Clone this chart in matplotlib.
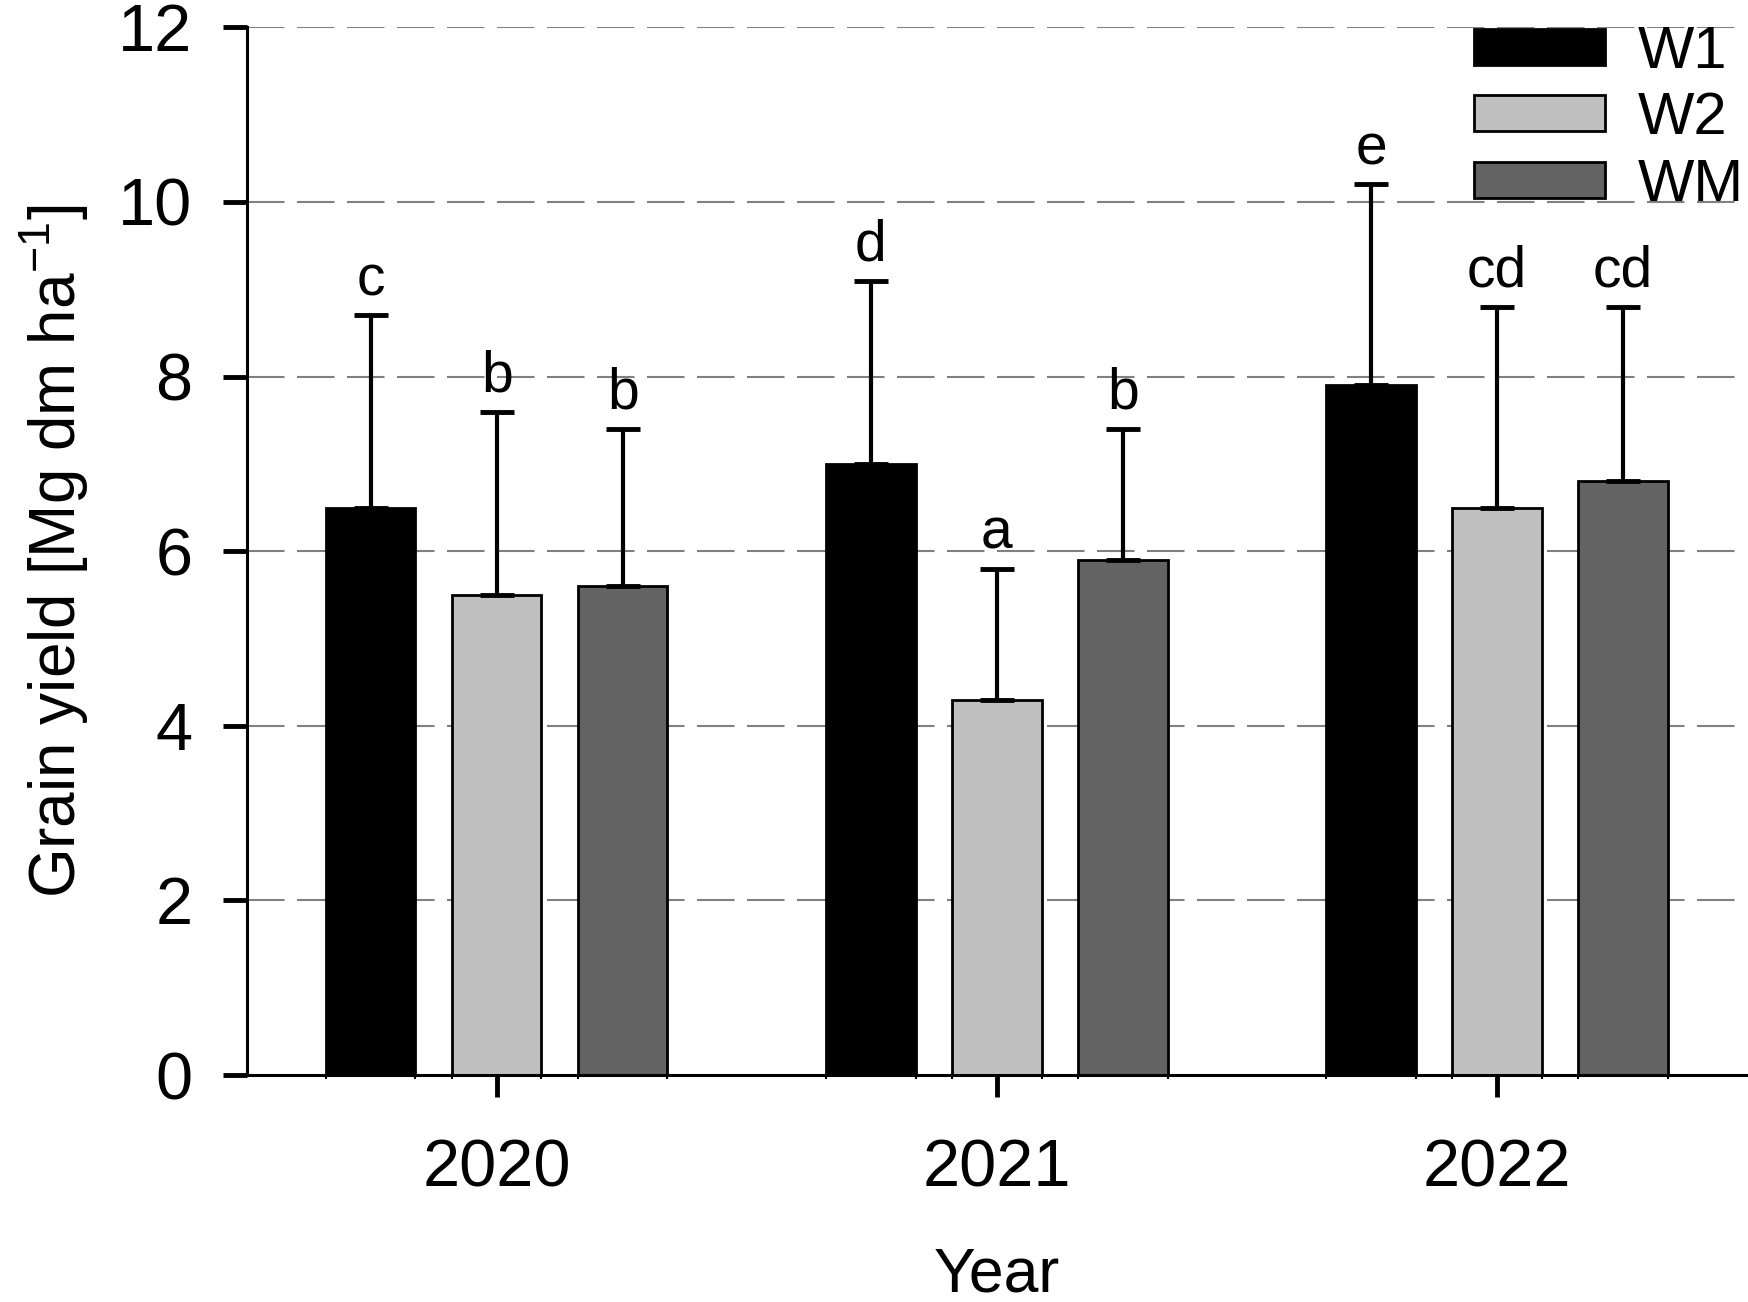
import matplotlib
matplotlib.use("Agg")
import matplotlib.pyplot as plt
import numpy as np

plt.rcParams['font.family'] = ['Liberation Sans', 'DejaVu Sans']

years = ['2020', '2021', '2022']
treatments = ['W1', 'W2', 'WM']
colors = ['#000000', '#c0c0c0', '#636363']

# mean grain yield and upper error-bar tip per treatment
means = {
    'W1': [6.5, 7.0, 7.9],
    'W2': [5.5, 4.3, 6.5],
    'WM': [5.6, 5.9, 6.8],
}
err_top = {
    'W1': [8.7, 9.1, 10.2],
    'W2': [7.6, 5.8, 8.8],
    'WM': [7.4, 7.4, 8.8],
}
letters = {
    'W1': ['c', 'd', 'e'],
    'W2': ['b', 'a', 'cd'],
    'WM': ['b', 'b', 'cd'],
}

fig = plt.figure(figsize=(17.49, 13.02), dpi=100)
ax = fig.add_axes([0.141, 0.1743, 0.8579, 0.8047])

x = np.arange(len(years))
width = 0.179
offsets = [-0.252, 0.0, 0.252]

edges = []
for t, c, off in zip(treatments, colors, offsets):
    m = np.array(means[t])
    sd = np.array(err_top[t]) - m
    ax.bar(x + off, m, width, color=c, edgecolor='black', linewidth=2.0,
           label=t, zorder=2)
    ax.errorbar(x + off, m, yerr=[np.zeros_like(sd), sd], fmt='none',
                ecolor='black', elinewidth=3.0, capsize=12, capthick=3.5,
                zorder=3)
    for xi, top, lab in zip(x + off, err_top[t], letters[t]):
        ax.annotate(lab, (xi, top), xytext=(0, 6), textcoords='offset points',
                    ha='center', va='bottom', fontsize=41)
    edges += list(x + off - width / 2) + list(x + off + width / 2)

ax.set_xlim(-0.5, 2.5)
ax.set_ylim(0, 12)
ax.set_yticks(np.arange(0, 13, 2))
ax.set_xticks(x)
ax.set_xticklabels(years)
ax.set_xticks(edges, minor=True)

for gy in np.arange(2, 13, 2):
    ax.axhline(gy, color='#808080', lw=1.5, linestyle=(0, (18, 6)), zorder=1)

for s in ['top', 'right']:
    ax.spines[s].set_visible(False)
for s in ['left', 'bottom']:
    ax.spines[s].set_linewidth(2.2)

ax.tick_params(axis='y', which='major', direction='out', length=17, width=3.5,
               pad=22, labelsize=48)
ax.tick_params(axis='x', which='major', direction='out', length=16, width=3.5,
               pad=30, labelsize=48)
ax.tick_params(axis='x', which='minor', direction='out', length=3, width=1.5)

ax.set_ylabel('Grain yield [Mg dm ha$^{\\mathregular{-1}}$]', fontsize=46,
              labelpad=20)
ax.set_xlabel('Year', fontsize=45, labelpad=32)

leg = fig.legend(loc='upper right', bbox_to_anchor=(1.004, 0.99), fontsize=43,
                 frameon=False, handlelength=2.2, handleheight=0.55,
                 labelspacing=0.19, handletextpad=0.55, borderaxespad=0.0,
                 borderpad=0.2)

fig.savefig('out.png', dpi=100)
